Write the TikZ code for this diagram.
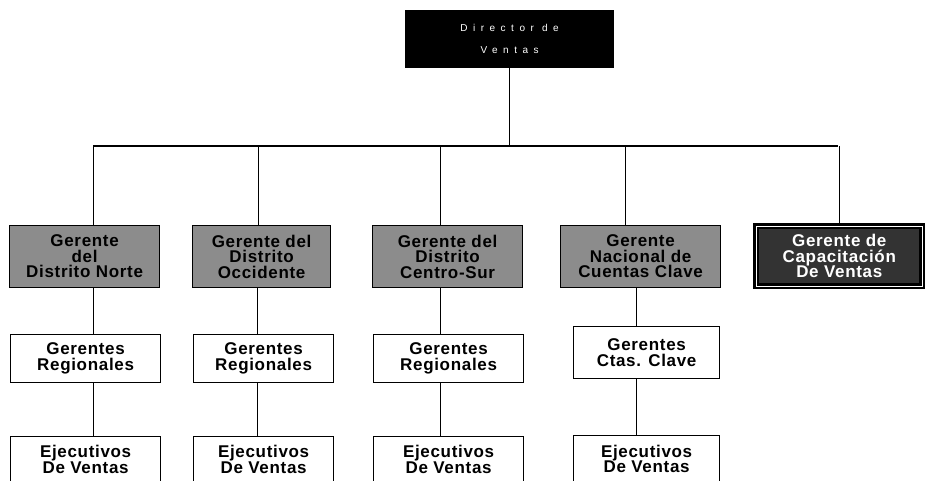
\documentclass[tikz,border=0pt]{standalone}
\usepackage{fontspec}
\setmainfont{Liberation Sans}
\newfontfamily\boxfont[LetterSpace=4.0]{Liberation Sans}
\newfontfamily\topfont[LetterSpace=55.0]{Liberation Sans}

\tikzset{
  puesto/.style={draw=black, line width=1.2pt, anchor=north west, inner sep=0pt,
    align=center, font=\boxfont\bfseries\fontsize{17}{15.5}\selectfont},
  gerente/.style={puesto, fill=black!45},
  equipo/.style={puesto, fill=white},
  jefe/.style={puesto, fill=black!80, text=white, line width=2.5pt,
    double=white, double distance=1.2pt},
  director/.style={puesto, fill=black, text=white,
    font=\topfont\fontsize{10}{22}\selectfont},
  linea/.style={draw=black, line width=1.2pt}
}

\begin{document}
\begin{tikzpicture}[x=1pt, y=-1pt]
  \useasboundingbox (0,0) rectangle (925,480);

  % cabeza
  \node[director, minimum width=208pt, minimum height=57pt] (top) at (405,10) {Director de\\Ventas};

  % gerentes de distrito
  \node[gerente, minimum width=150pt, minimum height=62pt] (g1) at (9,225) {Gerente\\del\\Distrito Norte};
  \node[gerente, minimum width=138pt, minimum height=62pt] (g2) at (192,225) {Gerente del\\Distrito\\Occidente};
  \node[gerente, minimum width=150pt, minimum height=62pt] (g3) at (372,225) {Gerente del\\Distrito\\Centro-Sur};
  \node[gerente, minimum width=160pt, minimum height=62pt] (g4) at (560,225) {Gerente\\Nacional de\\Cuentas Clave};
  \node[jefe, minimum width=166pt, minimum height=60pt] (g5) at (755,225) {Gerente de\\Capacitación\\De Ventas};

  % gerentes regionales
  \node[equipo, minimum width=150pt, minimum height=48pt] (r1) at (10,334) {Gerentes\\Regionales};
  \node[equipo, minimum width=140pt, minimum height=48pt] (r2) at (193,334) {Gerentes\\Regionales};
  \node[equipo, minimum width=150pt, minimum height=48pt] (r3) at (373,334) {Gerentes\\Regionales};
  \node[equipo, minimum width=146pt, minimum height=52pt] (r4) at (573,326) {Gerentes\\Ctas. Clave};

  % ejecutivos
  \node[equipo, minimum width=150pt, minimum height=46pt] (e1) at (10,436) {Ejecutivos\\De Ventas};
  \node[equipo, minimum width=140pt, minimum height=46pt] (e2) at (193,436) {Ejecutivos\\De Ventas};
  \node[equipo, minimum width=150pt, minimum height=46pt] (e3) at (373,436) {Ejecutivos\\De Ventas};
  \node[equipo, minimum width=146pt, minimum height=47pt] (e4) at (573,435) {Ejecutivos\\De Ventas};

  % lineas
  \coordinate (busL) at (93,146);
  \coordinate (busR) at (838,146);
  \draw[linea] (top) -- (top |- busL);
  \draw[linea] (busL) -- (busR);
  \foreach \n/\dx in {g1/9, g2/-3, g3/-7, g4/-15, g5/0}
    \draw[linea] ([xshift=\dx pt]\n.north) -- ([xshift=\dx pt]\n.north |- busL);
  \foreach \a/\b/\c/\dx in {g1/r1/e1/8, g2/r2/e2/-6, g3/r3/e3/-8, g4/r4/e4/-10}
    \draw[linea] ([xshift=\dx pt]\b.north |- \a.south) -- ([xshift=\dx pt]\b.north)
      ([xshift=\dx pt]\b.south) -- ([xshift=\dx pt]\c.north);
\end{tikzpicture}
\end{document}
